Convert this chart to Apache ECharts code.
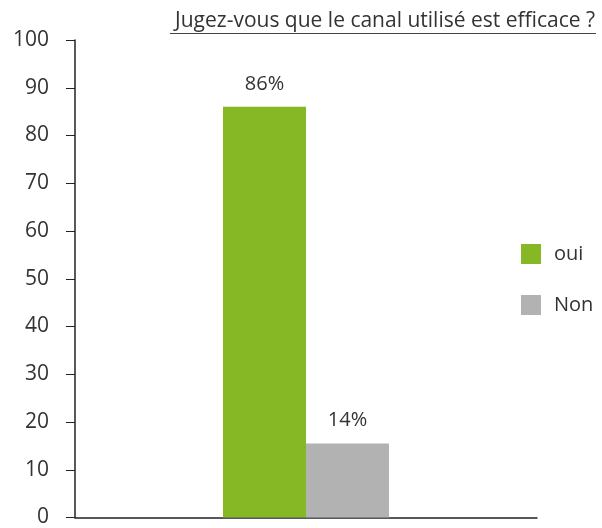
<!DOCTYPE html>
<html>
<head>
<meta charset="utf-8">
<script src="https://cdn.jsdelivr.net/npm/echarts@6/dist/echarts.min.js"></script>
<style>
    html, body { margin: 0; padding: 0; background: #fff; }
    #chart { width: 602px; height: 528px; }
</style>
</head>
<body>
<div id="chart"></div>
<script>
var titleText = 'Jugez-vous que le canal utilisé est efficace ?';
var categories = [''];
var seriesNames = ['oui', 'Non'];
var seriesValues = [86, 15.5];
var valueLabels = ['86%', '14%'];
var seriesColors = ['#86b826', '#b3b2b2'];
var yTicks = [0, 10, 20, 30, 40, 50, 60, 70, 80, 90, 100];

var fontName = '"Open Sans", Lato, sans-serif';

var chart = echarts.init(document.getElementById('chart'));

var series = [];
for (var i = 0; i < seriesNames.length; i++) {
    series.push({
        name: seriesNames[i],
        type: 'bar',
        barWidth: 83,
        barGap: '0%',
        itemStyle: { color: seriesColors[i] },
        label: {
            show: true,
            position: 'top',
            distance: 13,
            color: '#333',
            fontSize: 20,
            fontFamily: fontName,
            formatter: (function (txt) { return function () { return txt; }; })(valueLabels[i])
        },
        data: [seriesValues[i]]
    });
}

var option = {
    animation: false,
    title: {
        text: titleText,
        right: 2,
        top: 6,
        textStyle: {
            color: '#333',
            fontSize: 21,
            fontWeight: 'normal',
            fontFamily: fontName
        }
    },
    // underline of the title
    graphic: [{
        type: 'line',
        shape: { x1: 170, y1: 33.5, x2: 596, y2: 33.5 },
        style: { stroke: '#444', lineWidth: 1 }
    }],
    legend: {
        orient: 'vertical',
        left: 516,
        top: 239,
        itemWidth: 20,
        itemHeight: 20,
        itemGap: 31,
        icon: 'rect',
        textStyle: {
            color: '#333',
            fontSize: 20,
            fontFamily: fontName,
            padding: [0, 0, 0, 8]
        },
        data: seriesNames
    },
    grid: {
        left: 75,
        right: 65,
        top: 40,
        bottom: 5
    },
    xAxis: {
        type: 'category',
        data: categories,
        axisLine: { lineStyle: { color: '#222', width: 1.5 } },
        axisTick: { show: false },
        axisLabel: { show: false }
    },
    yAxis: {
        type: 'value',
        min: yTicks[0],
        max: yTicks[yTicks.length - 1],
        interval: 10,
        axisLine: { show: true, lineStyle: { color: '#222', width: 1.5 } },
        axisTick: { show: true, length: 9, lineStyle: { color: '#222', width: 1 } },
        splitLine: { show: false },
        axisLabel: {
            color: '#333',
            fontSize: 21,
            fontFamily: fontName,
            margin: 26
        }
    },
    series: series
};

chart.setOption(option);
</script>
</body>
</html>
